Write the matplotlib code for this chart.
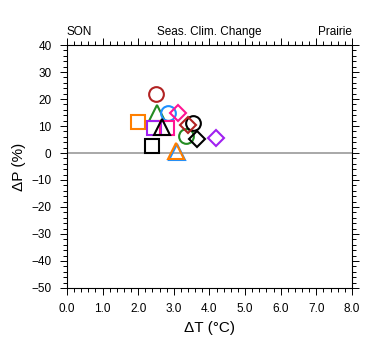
import matplotlib
matplotlib.use("Agg")
import matplotlib.pyplot as plt
from matplotlib.ticker import MultipleLocator

plt.rcParams['font.family'] = ['Liberation Sans', 'DejaVu Sans']

# data: (dT, dP, marker, colour)
dT = [2.49, 2.52, 2.83, 3.13, 2.00, 2.45, 2.82, 2.66, 3.34, 3.53, 3.41, 3.64, 4.19, 2.38, 3.10, 3.05]
dP = [21.9, 14.7, 14.7, 14.9, 11.4, 9.1, 9.1, 9.7, 6.4, 11.0, 10.4, 5.2, 5.4, 2.6, 0.3, 0.9]
markers = ['o', '^', 'o', 'D', 's', 's', 's', '^', 'o', 'o', 'D', 'D', 'D', 's', '^', '^']
colors = ['#b22222', '#228b22', '#1e90ff', '#ff1493', '#ff7f00', '#a020f0', '#ff1493', 'black',
          '#228b22', 'black', '#b22222', 'black', '#a020f0', 'black', '#1e90ff', '#ff7f00']

xticks = [0, 1, 2, 3, 4, 5, 6, 7, 8]
xticklabels = ['0.0', '1.0', '2.0', '3.0', '4.0', '5.0', '6.0', '7.0', '8.0']
yticks = [40, 30, 20, 10, 0, -10, -20, -30, -40, -50]

sizes = {'o': 10.6, 's': 9.6, 'D': 8.6, '^': 11.5}

fig = plt.figure(figsize=(3.8, 3.55), dpi=100)
ax = fig.add_axes([0.176, 0.189, 0.750, 0.684])
ax.axhline(0, color='#999999', lw=1.2, zorder=1)
for x, y, m, c in zip(dT, dP, markers, colors):
    ax.plot([x], [y], marker=m, ms=sizes[m], mfc='none', mec=c, mew=1.5, ls='none', zorder=3)

ax.set_xlim(0, 8)
ax.set_ylim(-50, 40)
ax.set_xticks(xticks)
ax.set_xticklabels(xticklabels)
ax.set_yticks(yticks)
ax.xaxis.set_minor_locator(MultipleLocator(0.2))
ax.yaxis.set_minor_locator(MultipleLocator(2))
ax.tick_params(which='both', direction='out', top=True, right=True, labelsize=8.5, width=0.7)
ax.tick_params(which='major', length=5, pad=6)
ax.tick_params(which='minor', length=3)
for s in ax.spines.values():
    s.set_linewidth(0.8)

ax.set_xlabel('ΔT (°C)', fontsize=11, labelpad=4)
ax.set_ylabel('ΔP (%)', fontsize=11, labelpad=4)

ax.text(0.0, 1.028, 'SON', transform=ax.transAxes, ha='left', va='bottom', fontsize=8.5)
ax.text(0.5, 1.028, 'Seas. Clim. Change', transform=ax.transAxes, ha='center', va='bottom', fontsize=8.5)
ax.text(1.0, 1.028, 'Prairie', transform=ax.transAxes, ha='right', va='bottom', fontsize=8.5)

fig.savefig('out.png', dpi=100)
